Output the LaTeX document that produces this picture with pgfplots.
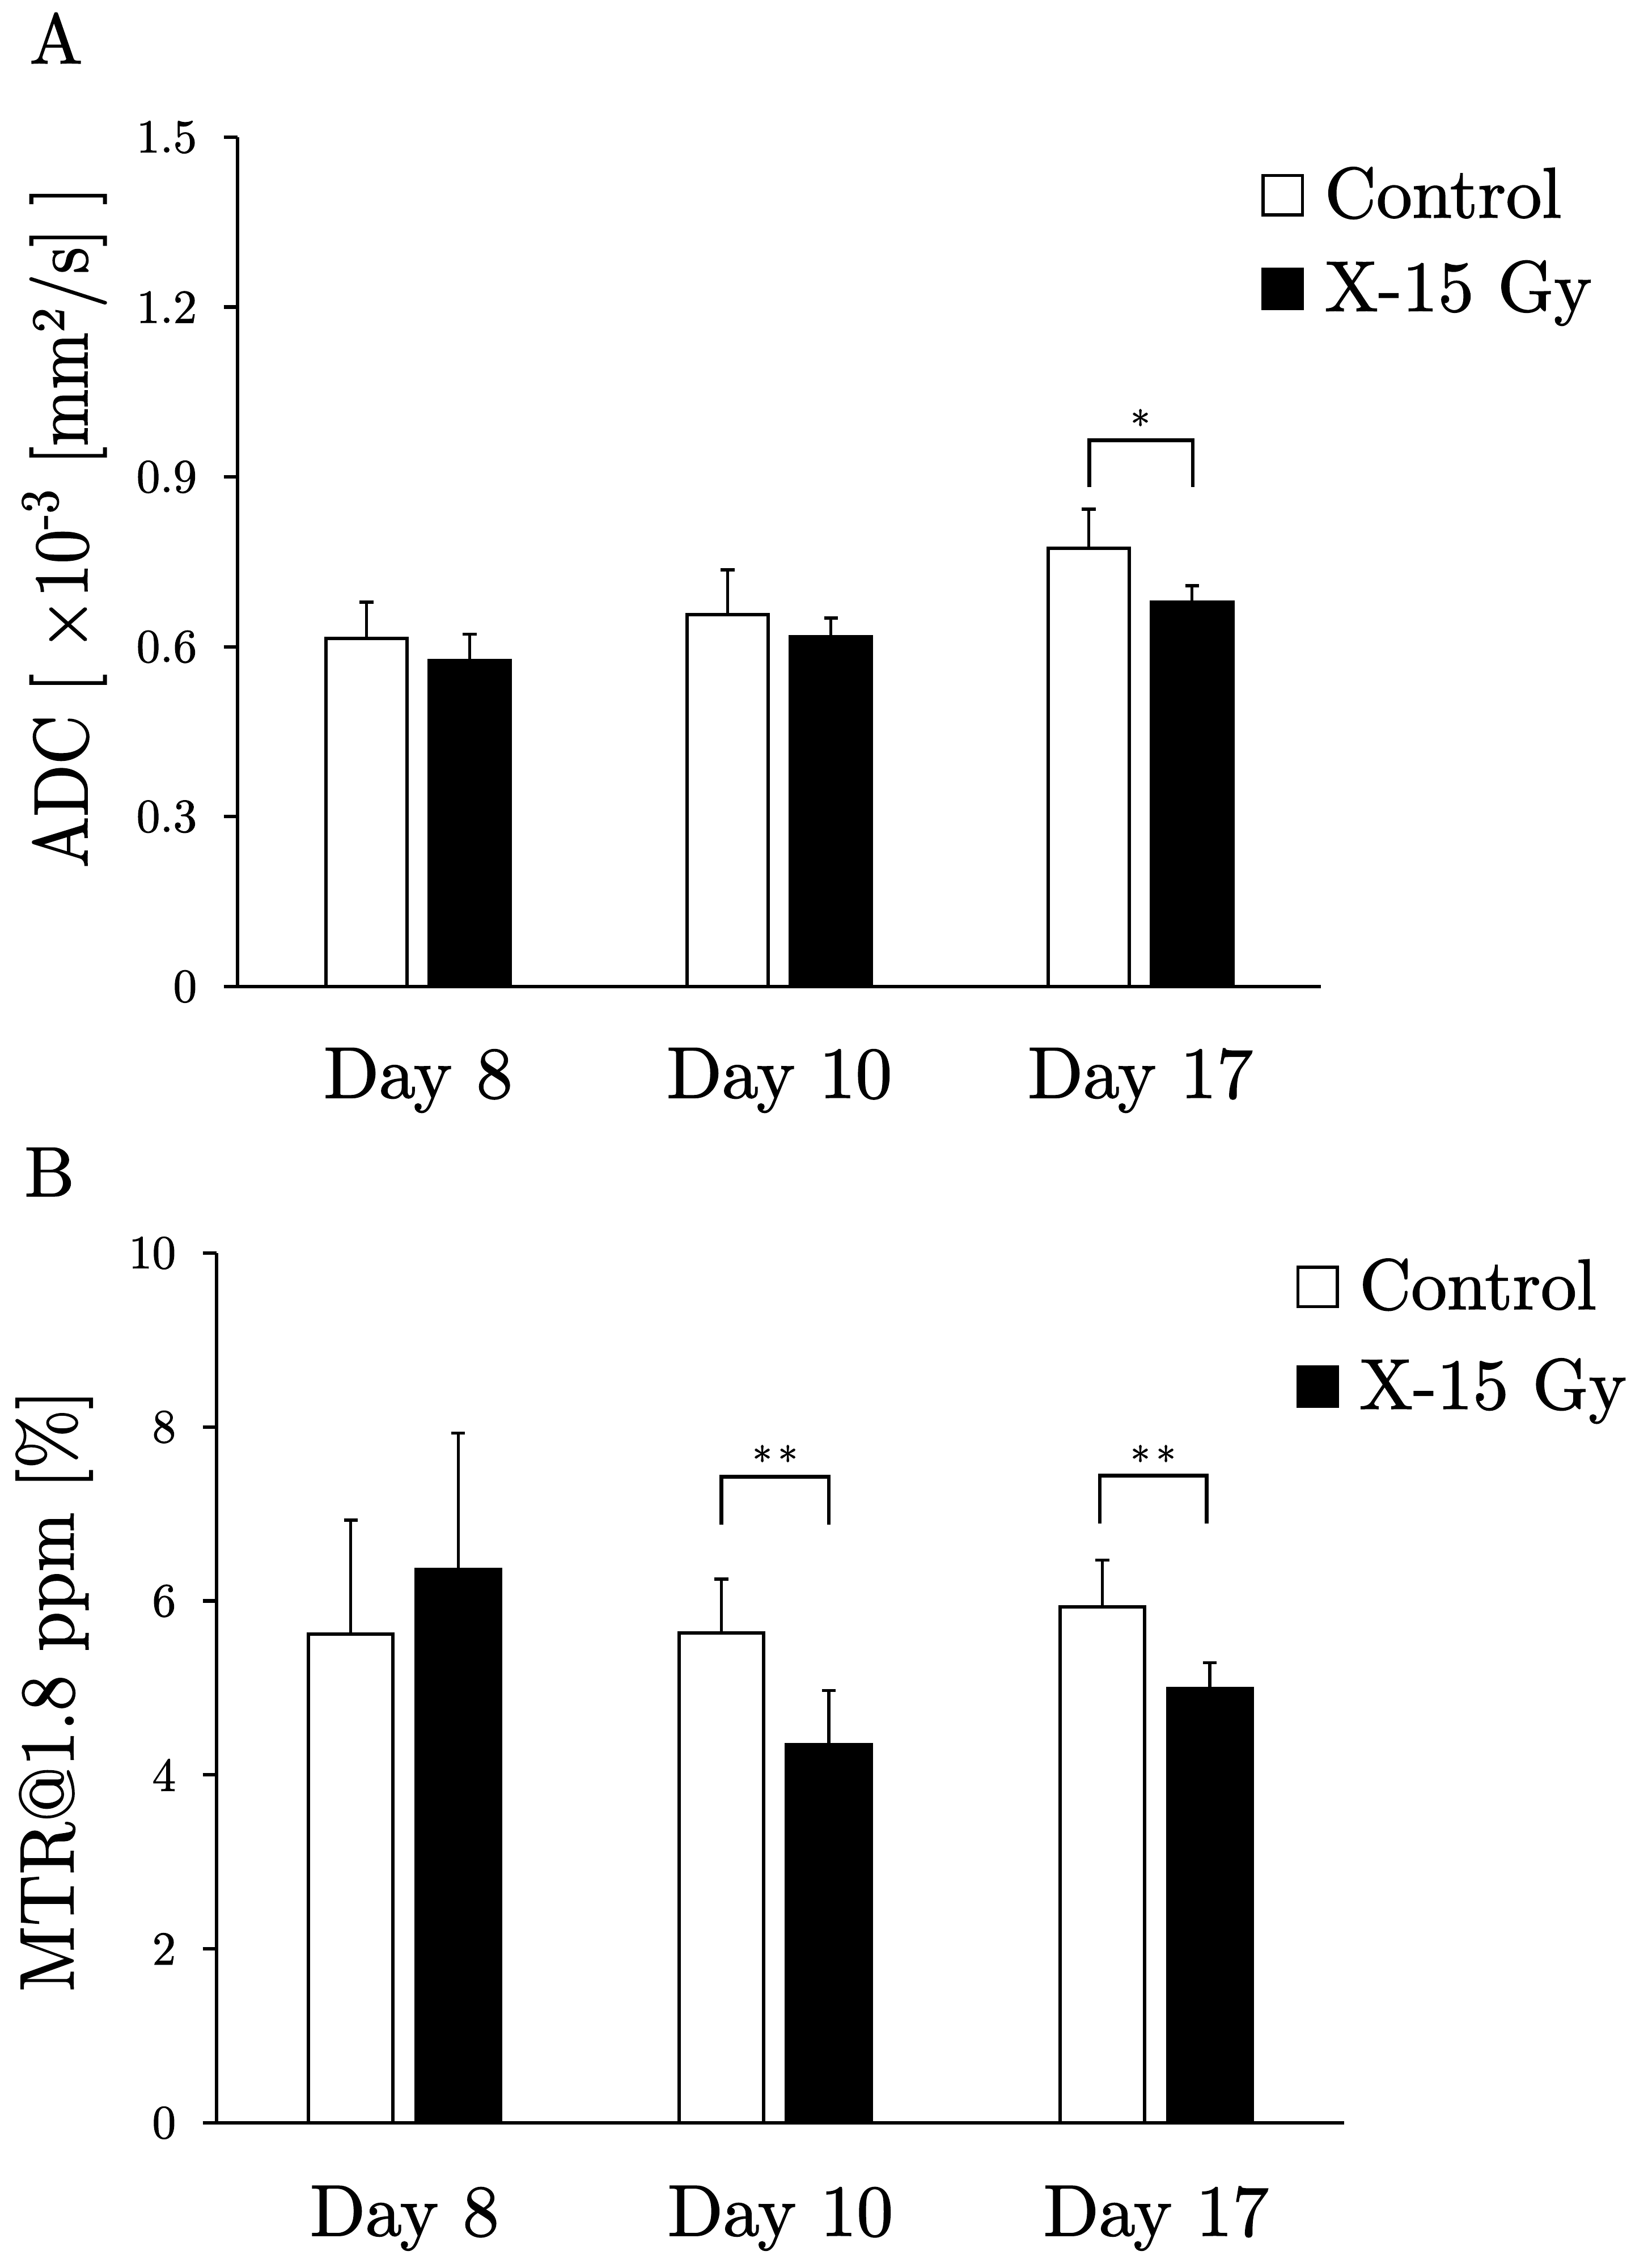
\documentclass[border=0pt]{standalone}
\usepackage{fontspec}
\setmainfont{lmroman10-regular.otf}[FakeBold=1.3]
\usepackage{graphicx}
\usepackage{pgfplots}
\pgfplotsset{compat=1.18}
\pgfplotsset{
  ctrlbar/.style={ybar, bar width=0.225, bar shift=0pt, fill=white, draw=black, line width=0.9pt,
    legend image code/.code={\draw[fill=white,draw=black,line width=0.8pt] (0pt,-5pt) rectangle (10pt,5pt);},
    error bars/.cd, y dir=plus, y explicit,
    error bar style={line width=0.8pt, black},
    error mark options={rotate=90, mark size=1.75pt, line width=0.8pt, black}},
  xbar15/.style={ybar, bar width=0.225, bar shift=0pt, fill=black, draw=black, line width=0.9pt,
    legend image code/.code={\draw[fill=black,draw=black,line width=0.8pt] (0pt,-5pt) rectangle (10pt,5pt);},
    error bars/.cd, y dir=plus, y explicit,
    error bar style={line width=0.8pt, black},
    error mark options={rotate=90, mark size=1.75pt, line width=0.8pt, black}},
  common/.style={
    anchor=south west, scale only axis,
    axis lines=left, axis line style={-, line width=0.9pt, black},
    xmin=-0.5, xmax=2.5, enlargelimits=false, clip=false,
    xtick={0,1,2}, xticklabels={Day 8,Day 10,Day 17},
    x tick style={draw=none},
    y tick style={line width=0.9pt, black},
    tick align=outside, major tick length=3.5pt,
    y tick label style={font=\fontsize{12}{14}\selectfont, xshift=-3.3pt},
    legend cell align=left,
  },
}
\begin{document}
\begin{tikzpicture}
\useasboundingbox (0,0) rectangle (414.29pt,576pt);
\node[anchor=base west, inner sep=0pt, font=\fontsize{18}{20}\selectfont] at (7.3pt,559.9pt) {A};
\node[anchor=base west, inner sep=0pt, font=\fontsize{18}{20}\selectfont] at (6.0pt,272.2pt) {B};

\begin{axis}[common,
  at={(60.34pt,325.46pt)}, width=275.2pt, height=215.7pt,
  ymin=0, ymax=1.5,
  x tick label style={font=\fontsize{18.5}{22}\selectfont, yshift=-8.6pt},
  ytick={0,0.3,0.6,0.9,1.2,1.5}, yticklabels={0,0.3,0.6,0.9,1.2,1.5},
  ylabel={\scalebox{0.889}[1]{ADC [ ×10\textsuperscript{-3} [mm²/s] ]}},
  ylabel style={at={(axis description cs:-0.160,0.541)}, anchor=center, font=\fontsize{19.5}{23}\selectfont, inner sep=0pt},
  legend style={at={(axis description cs:0.9445,0.975)}, anchor=north west, draw=none, fill=none,
    inner sep=0pt, row sep=5.4pt, font=\fontsize{18.2}{22}\selectfont, nodes={inner sep=2pt},
    /tikz/every odd column/.append style={column sep=3.2pt}},
]
\addplot[ctrlbar] table[x=x, y=y, y error=e] {
x y e
-0.143 0.615 0.064
0.857 0.657 0.079
1.857 0.774 0.069
};
\addlegendentry{Control}
\addplot[xbar15] table[x=x, y=y, y error=e] {
x y e
0.143 0.576 0.046
1.143 0.618 0.033
2.143 0.679 0.029
};
\addlegendentry{X-15 Gy}
\draw[line width=1pt] (axis cs:1.859,0.882) -- (axis cs:1.859,0.965) -- (axis cs:2.145,0.965) -- (axis cs:2.145,0.882);
\node[font=\fontsize{10}{11}\selectfont, inner sep=0pt, yshift=-1.5pt] at (axis cs:2,1.004) {*};
\end{axis}

\begin{axis}[common,
  at={(55.01pt,36.87pt)}, width=286.4pt, height=220.9pt,
  ymin=0, ymax=10,
  x tick label style={font=\fontsize{18.5}{22}\selectfont, yshift=-9pt},
  ytick={0,2,4,6,8,10}, yticklabels={0,2,4,6,8,10},
  ylabel={\scalebox{0.93}[1]{MTR@1.8 ppm [\%]}},
  ylabel style={at={(axis description cs:-0.144,0.497)}, anchor=center, font=\fontsize{19.5}{23}\selectfont, inner sep=0pt},
  legend style={at={(axis description cs:0.957,1.0035)}, anchor=north west, draw=none, fill=none,
    inner sep=0pt, row sep=7pt, font=\fontsize{18.2}{22}\selectfont, nodes={inner sep=2pt},
    /tikz/every odd column/.append style={column sep=3.2pt}},
]
\addplot[ctrlbar] table[x=x, y=y, y error=e] {
x y e
-0.143 5.62 1.31
0.843 5.63 0.62
1.857 5.93 0.54
};
\addlegendentry{Control}
\addplot[xbar15] table[x=x, y=y, y error=e] {
x y e
0.143 6.36 1.57
1.129 4.35 0.62
2.143 4.99 0.30
};
\addlegendentry{X-15 Gy}
\draw[line width=1pt] (axis cs:0.843,6.88) -- (axis cs:0.843,7.43) -- (axis cs:1.129,7.43) -- (axis cs:1.129,6.88);
\draw[line width=1pt] (axis cs:1.850,6.89) -- (axis cs:1.850,7.44) -- (axis cs:2.134,7.44) -- (axis cs:2.134,6.89);
\node[font=\fontsize{10}{11}\selectfont, inner sep=0pt, yshift=-1.5pt] at (axis cs:0.986,7.69) {*\kern1.5pt*};
\node[font=\fontsize{10}{11}\selectfont, inner sep=0pt, yshift=-1.5pt] at (axis cs:1.992,7.69) {*\kern1.5pt*};
\end{axis}
\end{tikzpicture}
\end{document}
